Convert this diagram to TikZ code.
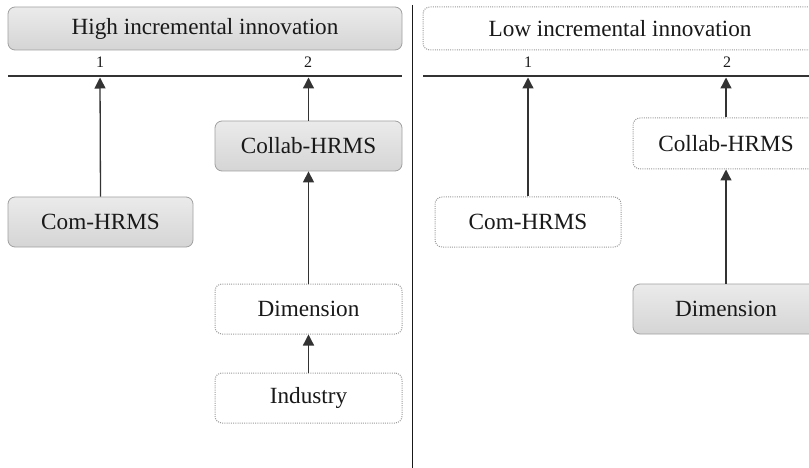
\documentclass[tikz,border=0pt]{standalone}
\usepackage{fontspec}
\setmainfont{Liberation Serif}
\usetikzlibrary{arrows.meta}
\definecolor{boxedge}{HTML}{A0A0A0}
\definecolor{dotedge}{HTML}{9A9A9A}
\definecolor{rule}{HTML}{333333}
\tikzset{
  graybox/.style={draw=boxedge, line width=0.8pt, rounded corners=7pt, top color=gray!16, bottom color=gray!33, inner sep=0pt, font=\fontsize{23.2}{26}\selectfont, text=black!90},
  dotbox/.style={draw=dotedge, line width=1pt, dash pattern=on 1pt off 1.2pt, rounded corners=7pt, fill=white, inner sep=0pt, font=\fontsize{23.2}{26}\selectfont, text=black!90},
  numlabel/.style={font=\fontsize{16}{18}\selectfont, text=black!90, inner sep=0pt},
  ruleline/.style={draw=rule, line width=1.5pt},
  arr/.style={draw=black!80, line width=1.3pt, -{Triangle[length=11pt,width=11pt]}},
}
\begin{document}
\begin{tikzpicture}[x=1pt,y=-1pt]
\useasboundingbox (0,0) rectangle (809,468);
\clip (0,0) rectangle (809,468);
% headers
\node[graybox, minimum width=394pt, minimum height=43pt] (h1) at (205,28.5) {High incremental innovation};
\node[dotbox, minimum width=394pt, minimum height=43pt] (h2) at (620,28.5) {Low incremental innovation};
% numbers
\node[numlabel] (n11) at (100,62) {1};
\node[numlabel] (n12) at (308,62) {2};
\node[numlabel] (n21) at (528,62) {1};
\node[numlabel] (n22) at (727,62) {2};
% rules
\coordinate (la) at (8,76);
\coordinate (lb) at (402,76);
\coordinate (ra) at (423,76);
\coordinate (rb) at (809,76);
\draw[ruleline] (la) -- (lb);
\draw[ruleline] (ra) -- (rb);
\coordinate (da) at (412.5,5);
\coordinate (db) at (412.5,468);
\draw[draw=black!90, line width=1.5pt] (da) -- (db);
% left panel boxes
\node[graybox, minimum width=185pt, minimum height=50pt] (lcom) at (100.5,222) {Com-HRMS};
\node[graybox, minimum width=187pt, minimum height=50pt] (lcol) at (308.5,146) {Collab-HRMS};
\node[dotbox, minimum width=187pt, minimum height=50pt] (ldim) at (308.5,309) {Dimension};
\node[dotbox, minimum width=187pt, minimum height=50pt] (lind) at (308.5,398) {Industry};
% right panel boxes
\node[dotbox, minimum width=186pt, minimum height=50pt] (rcom) at (528,222) {Com-HRMS};
\node[dotbox, minimum width=186pt, minimum height=51pt] (rcol) at (726,143.5) {Collab-HRMS};
\node[graybox, minimum width=186pt, minimum height=50pt] (rdim) at (726,309) {Dimension};
% arrow targets on the rules
\coordinate (t11) at (100,77.5);
\coordinate (t12) at (308.5,77.5);
\coordinate (t21) at (528,77.5);
\coordinate (t22) at (726,77.5);
% arrows
\draw[arr] (lcom.north) -- (t11);
\draw[arr] (lcol.north) -- (t12);
\draw[arr] (ldim.north) -- (lcol.south);
\draw[arr] (lind.north) -- (ldim.south);
\draw[arr] (rcom.north) -- (t21);
\draw[arr] (rcol.north) -- (t22);
\draw[arr] (rdim.north) -- (rcol.south);
\end{tikzpicture}
\end{document}
